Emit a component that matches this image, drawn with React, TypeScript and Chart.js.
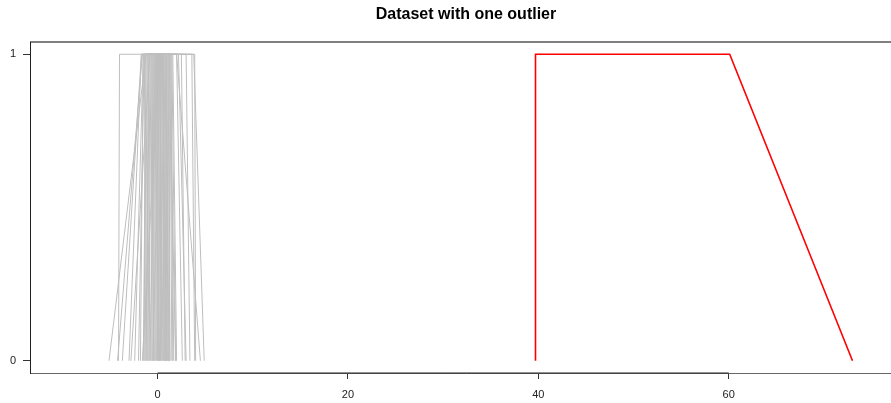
import React, { useEffect, useRef } from "react";
import { Chart, registerables } from "chart.js";
Chart.register(...registerables);

const chartTitle = "Dataset with one outlier";
const xTickValues = [0, 20, 40, 60];
const yTickValues = [0, 1];

// Trapezoids (a, b, c, d): (a,0) -> (b,1) -> (c,1) -> (d,0)
const grayA = [-4.1, -5.1, -4.2, -3.7, -2.4, -2.0, -1.4, -1.3, -1.2, -1.1, -0.7, -0.6, -0.5, -0.4, -0.3, -0.2, -0.1, 0.0, 0.3, 0.4, 0.6, 0.8, 0.9, -2.8, -1.8, -1.6, -0.9, -0.8, -1.5, 0.2, -0.5, -1.0, 1.1, -3.0, 0.1];
const grayB = [-4.0, -1.2, -1.6, -1.7, -1.5, -1.4, -1.3, -1.1, -0.9, -1.0, -0.6, -0.5, -0.4, -0.3, -0.2, -0.1, 0.0, 0.1, 0.3, 0.5, 0.6, 0.8, 1.0, -0.8, -1.5, 0.2, -0.7, -0.2, -1.2, 0.4, 0.3, -0.8, 1.2, -1.7, 0.2];
const grayC = [3.9, -0.4, 0.5, -1.0, 1.2, 0.2, -0.6, 0.9, 0.3, 2.0, 0.1, 1.4, 0.6, 2.5, 0.0, 1.1, 0.4, 0.8, 3.0, 1.3, 0.9, 1.5, 1.2, 3.6, 3.8, 2.0, 0.7, 0.5, -0.1, 1.0, 0.6, 1.6, 1.4, -1.4, 2.2];
const grayD = [4.0, 0.2, 0.9, -0.8, 1.9, 0.6, -0.4, 1.1, 0.5, 2.6, 0.3, 1.7, 0.8, 2.9, 0.1, 1.3, 0.7, 1.0, 3.4, 1.5, 1.2, 1.9, 1.3, 3.9, 4.9, 4.5, 0.9, 1.0, 0.0, 1.1, 0.7, 2.0, 1.6, -1.1, 3.0];
const outlier = [39.7, 39.7, 60.1, 73.0];

const X_MIN = -13.4;
const X_MAX = 78.2;
const Y_MIN = -0.04;
const Y_MAX = 1.04;

const FONT = "'Liberation Sans', Arial, Helvetica, sans-serif";

function trap(a: number, b: number, c: number, d: number) {
  return [
    { x: a, y: 0 },
    { x: b, y: 1 },
    { x: c, y: 1 },
    { x: d, y: 0 },
  ];
}

export default function App() {
  const ref = useRef<HTMLCanvasElement | null>(null);

  useEffect(() => {
    if (!ref.current) return;
    const datasets: any[] = grayA.map((a, i) => ({
      data: trap(a, grayB[i], grayC[i], grayD[i]),
      borderColor: "#BEBEBE",
      borderWidth: 1,
      pointRadius: 0,
      fill: false,
      tension: 0,
    }));
    datasets.push({
      data: trap(outlier[0], outlier[1], outlier[2], outlier[3]),
      borderColor: "#FF0000",
      borderWidth: 1.6,
      pointRadius: 0,
      fill: false,
      tension: 0,
    });

    const framePlugin = {
      id: "frame",
      afterDraw(chart: any) {
        const { ctx, chartArea } = chart;
        const xs = chart.scales.x;
        ctx.save();
        ctx.strokeStyle = "#000";
        ctx.lineWidth = 1;
        ctx.beginPath();
        ctx.moveTo(chartArea.left, chartArea.top);
        ctx.lineTo(chartArea.right, chartArea.top);
        ctx.stroke();
        ctx.strokeStyle = "#222";
        ctx.beginPath();
        ctx.moveTo(xs.getPixelForValue(xTickValues[0]), chartArea.bottom);
        ctx.lineTo(xs.getPixelForValue(xTickValues[xTickValues.length - 1]), chartArea.bottom);
        ctx.stroke();
        ctx.fillStyle = "#000";
        ctx.font = `bold 16px ${FONT}`;
        ctx.textAlign = "center";
        ctx.textBaseline = "middle";
        ctx.fillText(chartTitle, (chartArea.left + chartArea.right) / 2, 15);
        ctx.restore();
      },
    };

    const chart = new Chart(ref.current, {
      type: "line",
      data: { datasets },
      plugins: [framePlugin],
      options: {
        animation: false,
        responsive: false,
        maintainAspectRatio: false,
        layout: { padding: { top: 42, right: 10, left: 0, bottom: 0 } },
        plugins: { legend: { display: false }, title: { display: false }, tooltip: { enabled: false } },
        scales: {
          x: {
            type: "linear",
            min: X_MIN,
            max: X_MAX,
            afterBuildTicks: (s: any) => {
              s.ticks = xTickValues.map((v) => ({ value: v }));
            },
            afterFit: (s: any) => {
              s.height = 30;
            },
            ticks: {
              color: "#222",
              font: { family: FONT, size: 11 },
              padding: 9,
              maxRotation: 0,
              autoSkip: false,
              callback: (v: any) => String(v),
            },
            grid: { display: true, drawOnChartArea: false, drawTicks: true, tickLength: 6, tickColor: "#333" },
            border: { display: true, color: "#666", width: 1 },
          },
          y: {
            type: "linear",
            min: Y_MIN,
            max: Y_MAX,
            afterBuildTicks: (s: any) => {
              s.ticks = yTickValues.map((v) => ({ value: v }));
            },
            afterFit: (s: any) => {
              s.width = 30;
            },
            ticks: {
              color: "#222",
              font: { family: FONT, size: 11 },
              padding: 7,
              autoSkip: false,
              callback: (v: any) => String(v),
            },
            grid: { display: true, drawOnChartArea: false, drawTicks: true, tickLength: 7, tickColor: "#333" },
            border: { display: true, color: "#222", width: 1 },
          },
        },
      },
    });
    return () => chart.destroy();
  }, []);

  return (
    <div style={{ position: "fixed", left: 0, top: 0, width: 891, height: 403, overflow: "hidden", background: "#fff" }}>
      <canvas ref={ref} width={912} height={403} style={{ width: 912, height: 403, display: "block" }} />
    </div>
  );
}
